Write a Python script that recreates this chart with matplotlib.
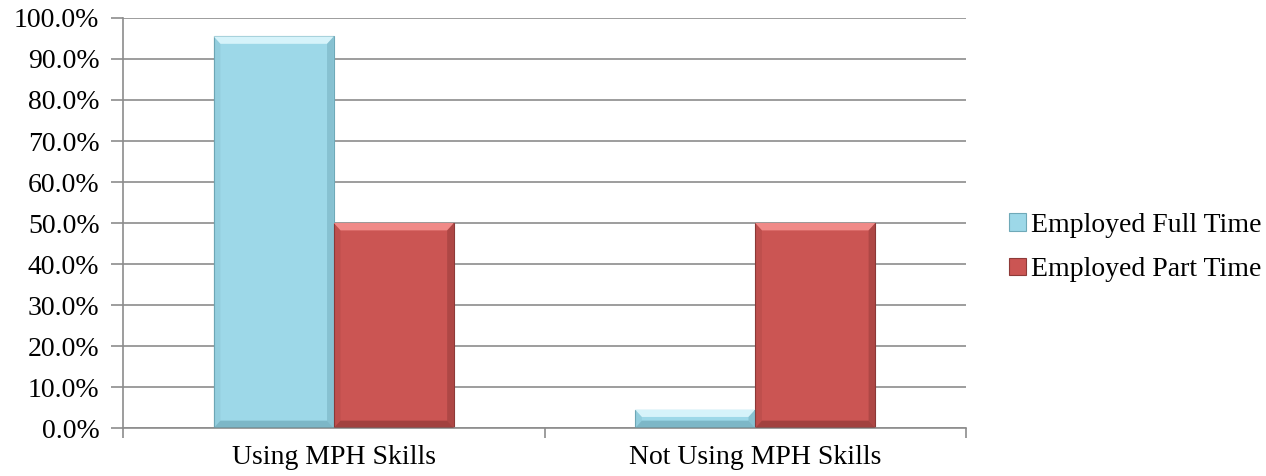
import matplotlib.pyplot as plt
from matplotlib.patches import Polygon
import numpy as np

categories = ['Using MPH Skills', 'Not Using MPH Skills']
full_time = [95.5, 4.5]
part_time = [50.0, 50.0]
series_names = ['Employed Full Time', 'Employed Part Time']
yticks = [0, 10, 20, 30, 40, 50, 60, 70, 80, 90, 100]

blue = '#9DD8E8'
red = '#CB5553'

plt.rcParams['font.family'] = ['Liberation Serif', 'DejaVu Serif']

fig = plt.figure(figsize=(12.66, 4.76), dpi=100)
ax = fig.add_axes([0.0972, 0.1008, 0.6658, 0.8614])

x = np.arange(len(categories)) + 0.5
w = 0.285


def bevel(rect, light, dark, bx, by):
    # lighter top strip and darker right/bottom edges for a raised look
    x0, y0 = rect.get_x(), rect.get_y()
    x1, y1 = x0 + rect.get_width(), y0 + rect.get_height()
    byy = min(by, (y1 - y0) / 2)
    top = Polygon([(x0, y1), (x1, y1), (x1 - bx, y1 - byy), (x0 + bx, y1 - byy)],
                  closed=True, facecolor=light, edgecolor='none', zorder=3)
    right = Polygon([(x1, y1), (x1, y0), (x1 - bx, y0 + byy), (x1 - bx, y1 - byy)],
                    closed=True, facecolor=dark, edgecolor='none', zorder=3, alpha=0.35)
    bottom = Polygon([(x0, y0), (x1, y0), (x1 - bx, y0 + byy), (x0 + bx, y0 + byy)],
                     closed=True, facecolor=dark, edgecolor='none', zorder=3, alpha=0.5)
    left = Polygon([(x0, y0), (x0, y1), (x0 + bx, y1 - byy), (x0 + bx, y0 + byy)],
                   closed=True, facecolor=dark, edgecolor='none', zorder=3, alpha=0.15)
    for p in (top, right, bottom, left):
        ax.add_patch(p)


b1 = ax.bar(x - w / 2, full_time, w, color=blue, edgecolor='#6FA9B8',
            linewidth=0.8, zorder=2, label=series_names[0])
b2 = ax.bar(x + w / 2, part_time, w, color=red, edgecolor='#8E3A38',
            linewidth=0.8, zorder=2, label=series_names[1])

for r in b1:
    bevel(r, '#D6F3FA', '#5E98A8', 0.016, 1.8)
for r in b2:
    bevel(r, '#F08A88', '#7A2E2C', 0.016, 1.8)

ax.set_xlim(0, len(categories))
ax.set_ylim(0, 100)
ax.set_yticks(yticks)
ax.set_yticklabels([f'{v:.1f}%' for v in yticks], fontsize=20)
ax.yaxis.grid(True, color='#8C8C8C', linewidth=1.2, zorder=0)
ax.set_axisbelow(True)

# category labels centred, tick marks on category boundaries
ax.set_xticks(np.arange(len(categories) + 1))
ax.set_xticklabels([])
ax.set_xticks(x, minor=True)
ax.set_xticklabels(categories, minor=True, fontsize=20)
ax.tick_params(axis='x', which='minor', length=0, pad=12)
ax.tick_params(axis='x', which='major', length=7, color='#8C8C8C', width=1.2)
ax.tick_params(axis='y', length=9, color='#8C8C8C', width=1.2, pad=8)

for s in ('top', 'right'):
    ax.spines[s].set_visible(False)
for s in ('left', 'bottom'):
    ax.spines[s].set_color('#8C8C8C')
    ax.spines[s].set_linewidth(1.2)

fig.legend(handles=[b1, b2], labels=series_names, loc='center left',
           bbox_to_anchor=(0.797, 0.48), frameon=False, fontsize=20,
           handlelength=0.6, handleheight=0.6, handletextpad=0.2,
           labelspacing=0.7, borderaxespad=0, borderpad=0)

fig.savefig('out.png', dpi=100)
